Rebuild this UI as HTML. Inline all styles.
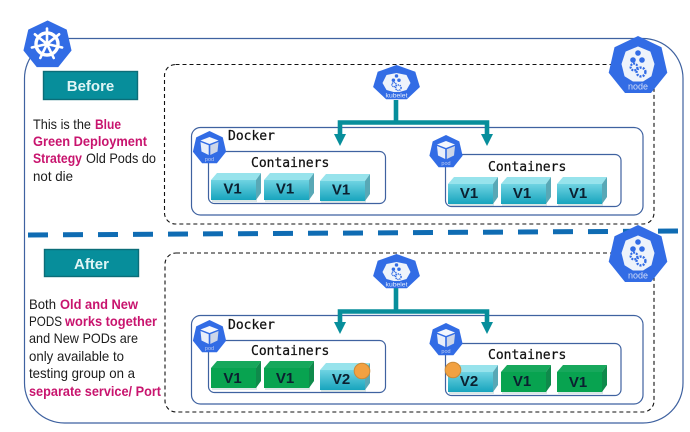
<!DOCTYPE html>
<html>
<head>
<meta charset="utf-8">
<style>
html,body{margin:0;padding:0;background:#fff;width:690px;height:432px;overflow:hidden}
svg{display:block}
.t{font:14px "Liberation Sans",sans-serif;fill:#1c1c1c}
.m{font:14px "Liberation Sans",sans-serif;fill:#c8146e;font-weight:bold}
.c{font:13px "DejaVu Sans Mono",monospace;fill:#111;stroke:#111;stroke-width:.25}
.b{font:bold 15px "Liberation Sans",sans-serif;fill:#dff5f5;text-anchor:middle}
.v{font:bold 15px "Liberation Sans",sans-serif;fill:#0b2030;text-anchor:middle}
</style>
</head>
<body>
<svg width="690" height="432" viewBox="0 0 690 432" xmlns="http://www.w3.org/2000/svg">
<defs>
<linearGradient id="bf" x1="0" y1="0" x2="0" y2="1"><stop offset="0" stop-color="#6fd3e2"/><stop offset="1" stop-color="#17a4bd"/></linearGradient>
<g id="blue">
<rect x="1" y="8" width="45" height="21" fill="#9bb" opacity=".35"/>
<polygon points="0,7 6,0 50,0 45,7" fill="#97e3ec"/>
<polygon points="45,7 50,0 50,20 45,27" fill="#58a8b6"/>
<rect x="0" y="7" width="45" height="20" fill="url(#bf)"/>
</g>
<g id="green">
<rect x="1" y="8" width="45" height="21" fill="#9bb" opacity=".35"/>
<polygon points="0,7 6,0 50,0 45,7" fill="#17a85c"/>
<polygon points="45,7 50,0 50,20 45,27" fill="#0f8a4b"/>
<rect x="0" y="7" width="45" height="20" fill="#08a350"/>
</g>
<g id="mini">
<circle cx="0" cy="-13" r="2.8" fill="#326ce5"/>
<circle cx="-5" cy="-6" r="2.8" fill="#326ce5"/>
<circle cx="4" cy="-6" r="2.8" fill="#326ce5"/>
<circle cx="-4" cy="1" r="3.4" fill="none" stroke="#326ce5" stroke-width="2.2" stroke-dasharray="2 1"/>
<circle cx="3" cy="6" r="4.4" fill="none" stroke="#326ce5" stroke-width="2.4" stroke-dasharray="2 1.2"/>
</g>
<g id="node">
<polygon points="0,-30 23.5,-18.7 29.3,6.7 13,27 -13,27 -29.3,6.7 -23.5,-18.7" fill="#326ce5"/>
<polygon points="0,-19 12,-14 16,-2 13,10 5,15 -5,15 -13,10 -16,-2 -12,-14" fill="#eef3fb" stroke="#eef3fb" stroke-linejoin="round"/>
<use href="#mini"/>
<text x="0" y="23.5" text-anchor="middle" font-family="Liberation Sans,sans-serif" font-size="9" fill="#d3def8">node</text>
</g>
<g id="kubelet">
<polygon points="0,-18 18.8,-11.2 23.4,4 10.4,16.2 -10.4,16.2 -23.4,4 -18.8,-11.2" fill="#326ce5"/>
<polygon points="0,-10 10,-8 14,0 10,7 3,9 -3,9 -10,7 -14,0 -10,-8" fill="#eef3fb"/>
<use href="#mini" transform="translate(0,1) scale(.62)"/>
<text x="0" y="14.5" text-anchor="middle" font-family="Liberation Sans,sans-serif" font-size="6.8" fill="#e4ecfc">kubelet</text>
</g>
<g id="pod">
<polygon points="0,-17 13.3,-10.6 16.6,3.8 7.4,15.3 -7.4,15.3 -16.6,3.8 -13.3,-10.6" fill="#326ce5"/>
<polygon points="0,-11 9,-7.5 0,-4 -9,-7.5" fill="#f4f7fd"/>
<polygon points="-9,-6 -0.8,-2.8 -0.8,7 -8,3.5" fill="#e8eefa"/>
<polygon points="9,-6 0.8,-2.8 0.8,7 8,3.5" fill="#cdd6e8"/>
<text x="0" y="13" text-anchor="middle" font-family="Liberation Sans,sans-serif" font-size="5.5" fill="#b9c9f2">pod</text>
</g>
</defs>

<rect x="24.5" y="38.5" width="658.5" height="384.5" rx="40" fill="#fff" stroke="#3f62a0" stroke-width="1.2"/>

<rect x="164.5" y="64.5" width="489.5" height="159.5" rx="11" fill="none" stroke="#111" stroke-width="1.1" stroke-dasharray="4 3"/>
<rect x="165" y="253" width="489" height="159" rx="11" fill="none" stroke="#111" stroke-width="1.1" stroke-dasharray="4 3"/>

<line x1="28" y1="235" x2="680" y2="231" stroke="#0f6cb3" stroke-width="5" stroke-dasharray="20 15"/>

<!-- k8s logo -->
<polygon points="47.5,21 66.3,30 71,50.4 58,66.6 37,66.6 24,50.4 28.7,30" fill="#326ce5" stroke="#326ce5" stroke-width="1"/>
<g transform="translate(47,44)" fill="none" stroke="#fff">
<circle r="11" stroke-width="3.4"/>
<g stroke-width="2.6" stroke-linecap="round">
<line x1="0" y1="0" x2="0" y2="-15.5"/>
<line x1="0" y1="0" x2="12.1" y2="-9.7"/>
<line x1="0" y1="0" x2="15.1" y2="3.5"/>
<line x1="0" y1="0" x2="6.7" y2="14"/>
<line x1="0" y1="0" x2="-6.7" y2="14"/>
<line x1="0" y1="0" x2="-15.1" y2="3.5"/>
<line x1="0" y1="0" x2="-12.1" y2="-9.7"/>
</g>
<circle r="3" fill="#fff" stroke="none"/>
</g>

<!-- Buttons -->
<rect x="43.5" y="71.5" width="94" height="28" fill="#078e9b" stroke="#0b6d78" stroke-width="1.4"/>
<text class="b" x="90.5" y="91">Before</text>
<rect x="44.5" y="249.5" width="94" height="27" fill="#078e9b" stroke="#0b6d78" stroke-width="1.4"/>
<text class="b" x="91.5" y="269">After</text>

<!-- Left text -->
<text class="t" x="33" y="129" textLength="58" lengthAdjust="spacingAndGlyphs">This is the</text>
<text class="m" x="95" y="129" textLength="26" lengthAdjust="spacingAndGlyphs">Blue</text>
<text class="m" x="33" y="146" textLength="114" lengthAdjust="spacingAndGlyphs">Green Deployment</text>
<text class="m" x="33" y="163" textLength="49" lengthAdjust="spacingAndGlyphs">Strategy</text>
<text class="t" x="86" y="163" textLength="70" lengthAdjust="spacingAndGlyphs">Old Pods do</text>
<text class="t" x="33" y="181" textLength="40" lengthAdjust="spacingAndGlyphs">not die</text>

<text class="t" x="29" y="309" textLength="27" lengthAdjust="spacingAndGlyphs">Both</text>
<text class="m" x="60" y="309" textLength="78" lengthAdjust="spacingAndGlyphs">Old and New</text>
<text class="t" x="29" y="326" textLength="33" lengthAdjust="spacingAndGlyphs">PODS</text>
<text class="m" x="65" y="326" textLength="92" lengthAdjust="spacingAndGlyphs">works together</text>
<text class="t" x="29" y="343" textLength="109" lengthAdjust="spacingAndGlyphs">and New PODs are</text>
<text class="t" x="29" y="361" textLength="95" lengthAdjust="spacingAndGlyphs">only available to</text>
<text class="t" x="29" y="378" textLength="106" lengthAdjust="spacingAndGlyphs">testing group on a</text>
<text class="m" x="29" y="396" textLength="132" lengthAdjust="spacingAndGlyphs">separate service/ Port</text>

<!-- Docker boxes -->
<g fill="#fff" stroke="#3f62a0" stroke-width="1.2">
<rect x="191.5" y="127.5" width="451.5" height="87.5" rx="9"/>
<rect x="191.5" y="315.5" width="451.5" height="88.5" rx="9"/>
<rect x="208.5" y="151.5" width="177" height="52" rx="6"/>
<rect x="445.5" y="154.5" width="175.5" height="52" rx="6"/>
<rect x="208.5" y="340.5" width="177" height="52" rx="6"/>
<rect x="445.5" y="343.5" width="175.5" height="52" rx="6"/>
</g>

<text class="c" x="228" y="140">Docker</text>
<text class="c" x="228" y="329">Docker</text>
<text class="c" x="251" y="167">Containers</text>
<text class="c" x="488" y="171">Containers</text>
<text class="c" x="251" y="355">Containers</text>
<text class="c" x="488" y="359">Containers</text>

<!-- Connectors -->
<g fill="none" stroke="#078e9b" stroke-width="4.6">
<polyline points="396,100 396,122.5"/>
<polyline points="340,134 340,122.5 487,122.5 487,134"/>
<polyline points="396,288 396,311.5"/>
<polyline points="340,323 340,311.5 487,311.5 487,323"/>
</g>
<g fill="#078e9b">
<polygon points="334,134 346,134 340,146"/>
<polygon points="481,134 493,134 487,146"/>
<polygon points="334,322 346,322 340,334"/>
<polygon points="481,322 493,322 487,334"/>
</g>

<!-- Cubes Before -->
<use href="#blue" x="211" y="173"/><text class="v" x="232.5" y="193.5">V1</text>
<use href="#blue" x="264" y="173"/><text class="v" x="285" y="193.5">V1</text>
<use href="#blue" x="320" y="174"/><text class="v" x="341" y="194.5">V1</text>
<use href="#blue" x="448" y="177"/><text class="v" x="469" y="198">V1</text>
<use href="#blue" x="501" y="177"/><text class="v" x="522" y="198">V1</text>
<use href="#blue" x="557" y="177"/><text class="v" x="578" y="198">V1</text>

<!-- Cubes After -->
<use href="#green" x="211" y="361"/><text class="v" x="232.5" y="383">V1</text>
<use href="#green" x="264" y="361"/><text class="v" x="285" y="383">V1</text>
<use href="#blue" x="320" y="363"/><text class="v" x="341" y="384">V2</text>
<circle cx="362" cy="371" r="7.8" fill="#f2a141" stroke="#c98a3a" stroke-width="1"/>
<use href="#blue" x="448" y="365"/><text class="v" x="469" y="386">V2</text>
<use href="#green" x="501" y="365"/><text class="v" x="522" y="386">V1</text>
<use href="#green" x="557" y="365"/><text class="v" x="578" y="387">V1</text>
<circle cx="453" cy="370" r="7.8" fill="#f2a141" stroke="#c98a3a" stroke-width="1"/>

<!-- Icons -->
<use href="#node" x="638" y="66"/>
<use href="#node" x="638" y="255"/>
<use href="#kubelet" x="396.5" y="83"/>
<use href="#kubelet" x="396.5" y="272"/>
<use href="#pod" x="209.5" y="148"/>
<use href="#pod" x="446" y="152"/>
<use href="#pod" x="209.5" y="337"/>
<use href="#pod" x="446" y="340"/>
</svg>
</body>
</html>
